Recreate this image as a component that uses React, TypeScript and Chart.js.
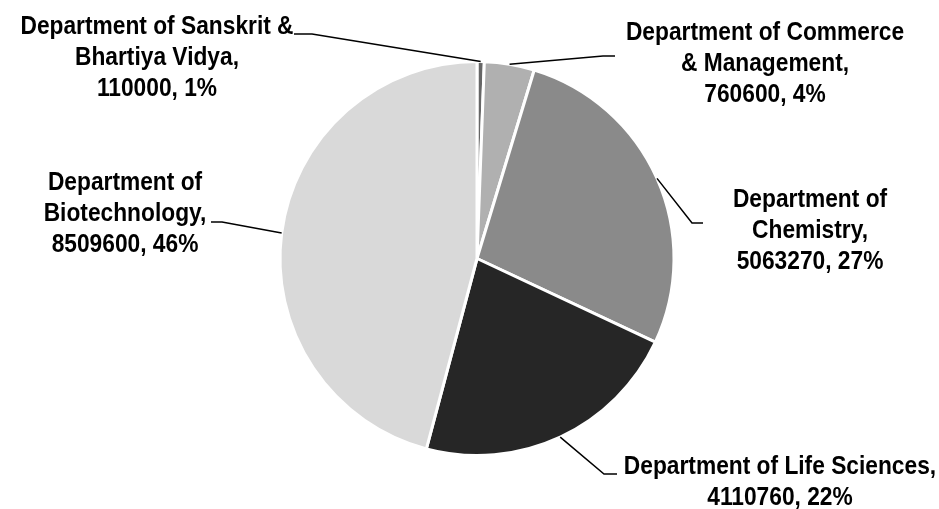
import React, { useEffect, useRef } from "react";
import { Chart, registerables } from "chart.js";

Chart.register(...registerables);

const categories = [
  "Department of Sanskrit & Bhartiya Vidya",
  "Department of Commerce & Management",
  "Department of Chemistry",
  "Department of Life Sciences",
  "Department of Biotechnology",
];
const values = [110000, 760600, 5063270, 4110760, 8509600];
const nameLines = [
  ["Department of Sanskrit &", "Bhartiya Vidya,"],
  ["Department of Commerce", "& Management,"],
  ["Department of", "Chemistry,"],
  ["Department of Life Sciences,"],
  ["Department of", "Biotechnology,"],
];
const colors = ["#666666", "#b0b0b0", "#8a8a8a", "#262626", "#d9d9d9"];

// label layout: text centre x, first line y, elbow point, line end
const labelLayout = [
  { cx: 157, y: 27, elbow: [312, 34], end: [294, 34] },
  { cx: 765, y: 33, elbow: [603, 56], end: [615, 56] },
  { cx: 810, y: 200, elbow: [692, 223], end: [703, 223] },
  { cx: 780, y: 467, elbow: [604, 474], end: [617, 474] },
  { cx: 125, y: 183, elbow: [222, 222], end: [211, 222] },
];
const LINE_H = 31;
const X_SCALE = 0.875;
const FONT = "bold 26px 'Liberation Sans', Arial, sans-serif";

const labelPlugin = {
  id: "pieLabels",
  afterDraw(chart: any) {
    const ctx = chart.ctx;
    const meta = chart.getDatasetMeta(0);
    const data = chart.data.datasets[0].data as number[];
    const total = data.reduce((a, b) => a + b, 0);
    ctx.save();
    meta.data.forEach((arc: any, i: number) => {
      const L = labelLayout[i];
      const mid = (arc.startAngle + arc.endAngle) / 2;
      const ax = arc.x + Math.cos(mid) * arc.outerRadius;
      const ay = arc.y + Math.sin(mid) * arc.outerRadius;
      ctx.strokeStyle = "#000";
      ctx.lineWidth = 1.5;
      ctx.beginPath();
      ctx.moveTo(ax, ay);
      ctx.lineTo(L.elbow[0], L.elbow[1]);
      ctx.lineTo(L.end[0], L.end[1]);
      ctx.stroke();
      const pct = Math.round((data[i] / total) * 100);
      const lines = [...nameLines[i], `${data[i]}, ${pct}%`];
      ctx.fillStyle = "#000";
      ctx.font = FONT;
      ctx.textAlign = "center";
      ctx.textBaseline = "middle";
      lines.forEach((t, k) => {
        ctx.save();
        ctx.translate(L.cx, L.y + k * LINE_H);
        ctx.scale(X_SCALE, 1);
        ctx.fillText(t, 0, 0);
        ctx.restore();
      });
    });
    ctx.restore();
  },
};

export default function App() {
  const ref = useRef<HTMLCanvasElement>(null);
  useEffect(() => {
    document.body.style.margin = "0";
    const chart = new Chart(ref.current!, {
      type: "pie",
      data: {
        labels: categories,
        datasets: [
          {
            data: values,
            backgroundColor: colors,
            borderColor: "#ffffff",
            borderWidth: 3,
          },
        ],
      },
      options: {
        animation: false,
        responsive: false,
        layout: { padding: { left: 278, right: 263, top: 60, bottom: 52 } },
        plugins: { legend: { display: false }, tooltip: { enabled: false } },
      },
      plugins: [labelPlugin],
    });
    return () => chart.destroy();
  }, []);
  return <canvas ref={ref} width={939} height={509} style={{ display: "block" }} />;
}
